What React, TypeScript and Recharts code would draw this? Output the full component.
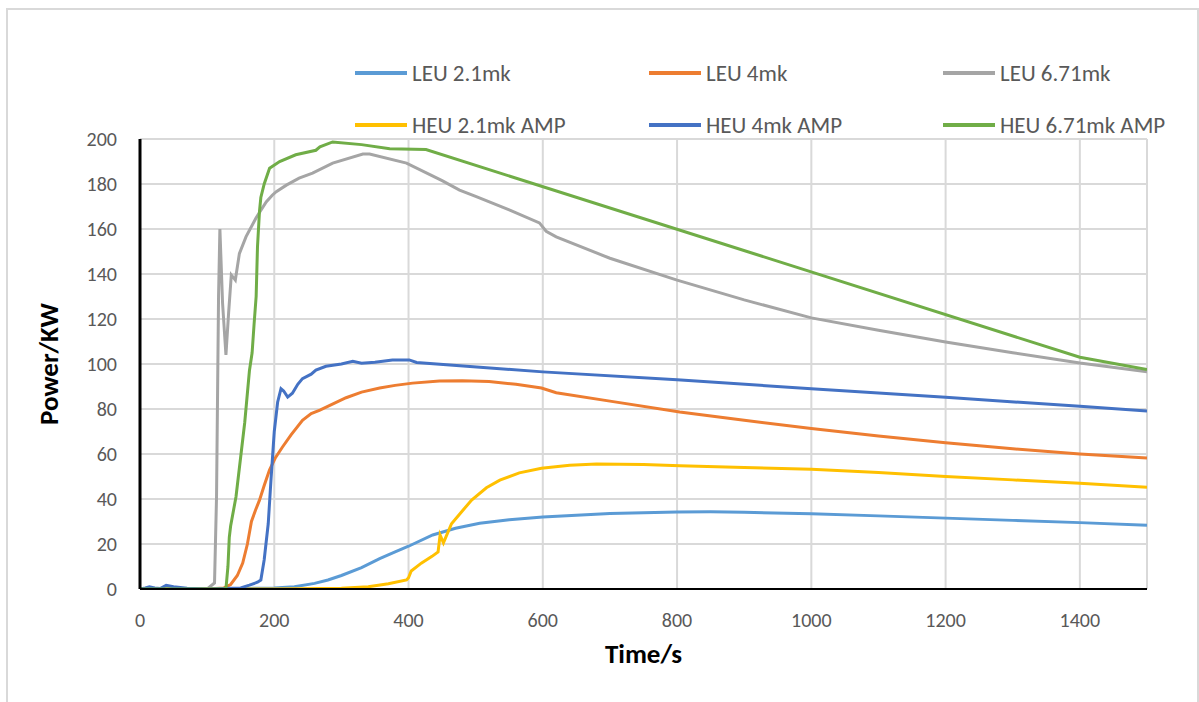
import React from "react";
import { LineChart, Line, XAxis, YAxis, CartesianGrid, Label } from "recharts";

type Pt = [number, number];

const xTicks = [0, 200, 400, 600, 800, 1000, 1200, 1400];
const yTicks = [0, 20, 40, 60, 80, 100, 120, 140, 160, 180, 200];

// [time s, power kW]
const leu21: Pt[] = [
  [0, 0], [100, 0], [200, 0.5], [230, 1], [260, 2.5], [280, 4], [300, 6], [330, 9.5],
  [357, 13.5], [380, 16.5], [400, 19], [436, 24], [470, 27], [506, 29.2], [550, 30.8],
  [600, 32], [700, 33.6], [800, 34.2], [850, 34.3], [900, 34.1], [1000, 33.4], [1100, 32.5],
  [1200, 31.5], [1300, 30.5], [1400, 29.5], [1500, 28.3],
];

const leu4: Pt[] = [
  [0, 0], [100, 0], [125, 0.5], [135, 2], [145, 6], [153, 11.5], [160, 20], [166, 30],
  [172, 35], [178, 39.5], [185, 46], [193, 53], [202, 58.5], [212, 63], [225, 68.5],
  [242, 75], [255, 78], [268, 79.5], [282, 81.5], [307, 85], [330, 87.5], [357, 89.3],
  [380, 90.5], [406, 91.5], [446, 92.4], [480, 92.6], [520, 92.2], [560, 91], [598, 89.3],
  [620, 87.2], [700, 83.5], [804, 78.7], [900, 75], [1000, 71.3], [1100, 68], [1200, 65],
  [1300, 62.3], [1400, 60], [1500, 58.2],
];

const leu671: Pt[] = [
  [0, 0], [100, 0], [111, 2.7], [114, 41], [117, 130], [119, 160], [123, 127], [128, 104],
  [132, 122.7], [136, 139.6], [142, 137.3], [148, 149], [158, 156.6], [173, 165], [188, 172],
  [197, 175], [203, 176.6], [218, 179.5], [237, 182.6], [257, 184.8], [287, 189.3],
  [332, 193.3], [342, 193.3], [397, 189.3], [450, 181.5], [476, 177.3], [500, 174.5],
  [550, 168.5], [595, 162.7], [605, 159], [620, 156.5], [700, 147], [800, 137.3],
  [900, 128.5], [1000, 120.5], [1100, 115], [1200, 109.8], [1300, 105], [1400, 100.4],
  [1500, 96.5],
];

const heu21: Pt[] = [
  [0, 0], [200, 0], [300, 0.3], [340, 1], [370, 2.3], [397, 4], [400, 5], [404, 8],
  [419, 11.5], [435, 14.5], [444, 16.5], [447, 24], [452, 20.5], [464, 29], [481, 35],
  [494, 39.5], [516, 45], [536, 48.4], [565, 51.6], [598, 53.7], [640, 55], [680, 55.6],
  [750, 55.3], [804, 54.8], [900, 54], [1000, 53.2], [1100, 51.8], [1200, 50], [1300, 48.5],
  [1400, 47], [1500, 45.2],
];

const heu4: Pt[] = [
  [0, 0], [8, 0.5], [14, 1], [22, 0.5], [30, 0.2], [39, 1.6], [50, 1], [70, 0.3], [100, 0],
  [150, 0.5], [163, 1.7], [175, 3], [180, 4], [185, 13], [191, 29], [195, 48], [200, 70],
  [205, 83], [210, 89], [214, 88], [220, 85.3], [227, 87], [235, 91], [242, 93.5],
  [255, 95.5], [262, 97.3], [277, 99], [300, 100], [317, 101.2], [330, 100.3], [350, 100.8],
  [376, 101.8], [401, 101.8], [412, 100.7], [600, 96.5], [800, 93], [1000, 89], [1200, 85.2],
  [1400, 81.2], [1500, 79.1],
];

const heu671: Pt[] = [
  [0, 0], [100, 0], [128, 0], [131, 10], [133, 23], [135, 28], [143, 41], [156, 74],
  [163, 97], [167, 105], [170, 118], [173, 130], [175, 152], [178, 168], [180, 174],
  [185, 180], [193, 187], [208, 190], [232, 193], [262, 195], [268, 196.5], [287, 198.7],
  [330, 197.5], [372, 195.7], [426, 195.3], [1400, 103], [1500, 97.5],
];

const seriesNames = ["LEU 2.1mk", "LEU 4mk", "LEU 6.71mk", "HEU 2.1mk AMP", "HEU 4mk AMP", "HEU 6.71mk AMP"];
const seriesColors = ["#5B9BD5", "#ED7D31", "#A5A5A5", "#FFC000", "#4472C4", "#70AD47"];
const seriesData = [leu21, leu4, leu671, heu21, heu4, heu671];

const FONT = "'Liberation Sans Narrow', Carlito, Lato, sans-serif";

const legendCols = [355, 649, 943];
const legendRows = [73, 125];

function ChartLegend() {
  return (
    <div style={{ position: "absolute", left: 0, top: 0, width: 1199, height: 140, pointerEvents: "none" }}>
      {seriesNames.map((name, i) => (
        <div
          key={name}
          style={{
            position: "absolute",
            left: legendCols[i % 3],
            top: legendRows[Math.floor(i / 3)] - 15,
            height: 30,
            display: "flex",
            alignItems: "center",
            whiteSpace: "nowrap",
          }}
        >
          <span style={{ display: "inline-block", width: 52, height: 4, background: seriesColors[i], marginRight: 5 }} />
          <span style={{ fontFamily: FONT, fontSize: 23, color: "#595959" }}>{name}</span>
        </div>
      ))}
    </div>
  );
}

export default function App() {
  const tickStyle = { fontFamily: FONT, fontSize: 20, fill: "#595959" };
  return (
    <div style={{ position: "absolute", left: 0, top: 0, width: 1199, height: 702, background: "#fff", overflow: "hidden" }}>
      <div
        style={{
          position: "absolute",
          left: 6,
          top: 8,
          width: 1189,
          height: 720,
          border: "2px solid #d9d9d9",
        }}
      />
      <LineChart width={1199} height={702} margin={{ top: 139, right: 52, bottom: 83, left: 10 }}>
        <CartesianGrid stroke="#d9d9d9" strokeWidth={2} />
        <XAxis
          type="number"
          dataKey="t"
          domain={[0, 1500]}
          ticks={xTicks}
          allowDataOverflow
          axisLine={{ stroke: "#000", strokeWidth: 2 }}
          tickLine={false}
          tickMargin={18}
          height={30}
          tick={tickStyle}
        >
          <Label
            value="Time/s"
            position="bottom"
            offset={25}
            style={{ fontFamily: FONT, fontSize: 27, fontWeight: "bold", fill: "#000" }}
          />
        </XAxis>
        <YAxis
          type="number"
          domain={[0, 200]}
          ticks={yTicks}
          allowDataOverflow
          width={130}
          axisLine={{ stroke: "#000", strokeWidth: 3 }}
          tickLine={false}
          tickMargin={17}
          tick={tickStyle}
        >
          <Label
            value="Power/KW"
            angle={-90}
            position="insideLeft"
            offset={38}
            style={{ textAnchor: "middle", fontFamily: FONT, fontSize: 27, fontWeight: "bold", fill: "#000" }}
          />
        </YAxis>
        {seriesNames.map((name, i) => (
          <Line
            key={name}
            name={name}
            data={seriesData[i].map(([t, p]) => ({ t, p }))}
            dataKey="p"
            type="linear"
            stroke={seriesColors[i]}
            strokeWidth={3}
            dot={false}
            activeDot={false}
            isAnimationActive={false}
          />
        ))}
      </LineChart>
      <ChartLegend />
    </div>
  );
}
